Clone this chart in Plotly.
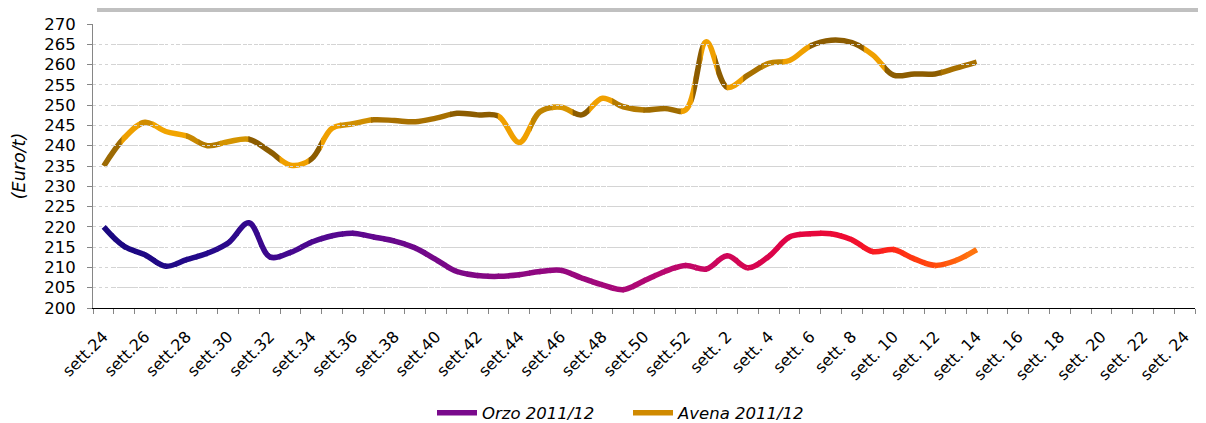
import plotly.graph_objects as go

# ---------------- data ----------------
weeks = ["sett.24", "sett.25", "sett.26", "sett.27", "sett.28", "sett.29", "sett.30", "sett.31",
         "sett.32", "sett.33", "sett.34", "sett.35", "sett.36", "sett.37", "sett.38", "sett.39",
         "sett.40", "sett.41", "sett.42", "sett.43", "sett.44", "sett.45", "sett.46", "sett.47",
         "sett.48", "sett.49", "sett.50", "sett.51", "sett.52",
         "sett. 1", "sett. 2", "sett. 3", "sett. 4", "sett. 5", "sett. 6", "sett. 7", "sett. 8",
         "sett. 9", "sett. 10", "sett. 11", "sett. 12", "sett. 13", "sett. 14", "sett. 15",
         "sett. 16", "sett. 17", "sett. 18", "sett. 19", "sett. 20", "sett. 21", "sett. 22",
         "sett. 23", "sett. 24"]

orzo = [220.0, 215.2, 213.1, 210.3, 211.9, 213.5, 216.0, 221.0, 212.6, 213.7, 216.2, 217.8,
        218.4, 217.5, 216.5, 214.8, 211.9, 209.0, 208.0, 207.8, 208.2, 209.0, 209.3, 207.4,
        205.7, 204.5, 206.7, 209.0, 210.5, 209.6, 212.9, 209.9, 212.7, 217.5, 218.3, 218.3,
        216.8, 213.9, 214.4, 212.1, 210.5, 211.7, 214.4]

avena = [235.0, 241.9, 245.8, 243.5, 242.4, 240.0, 241.0, 241.6, 238.6, 235.2, 236.7, 244.3,
         245.4, 246.4, 246.2, 245.9, 246.8, 248.0, 247.6, 247.3, 240.8, 248.4, 249.5, 247.6,
         251.7, 249.6, 248.8, 249.2, 248.8, 265.6, 254.4, 257.4, 260.3, 261.0, 264.6, 266.0,
         265.4, 262.4, 257.4, 257.7, 257.7, 259.1, 260.6]

series_names = ["Orzo 2011/12", "Avena 2011/12"]
y_ticks = [200, 205, 210, 215, 220, 225, 230, 235, 240, 245, 250, 255, 260, 265, 270]

# ---------------- styling ----------------
FONT = "DejaVu Sans"
N = len(weeks)
LW = 5.5
OFF = 8                      # page body margin of the html page
W, H = 1206 - OFF, 423 - OFF
L_M, R_M, T_M, B_M = 93 - OFF, 11, 24 - OFF, 115
PW = W - L_M - R_M
PH = H - T_M - B_M

orzo_stops = [(0, "#1a0880"), (5, "#24098a"), (9, "#45088f"), (13, "#62088f"), (18, "#820884"),
              (23, "#9a087e"), (27, "#b80870"), (30, "#d00658"), (33, "#e00444"), (36, "#f00c30"),
              (38, "#ff2818"), (40, "#ff4a0c"), (42, "#ff7a10")]

avena_bands = [(-0.5, 0.9, "#9c6a04"), (0.9, 1.75, "#eea000"), (1.75, 2.4, "#d08c00"),
               (2.4, 4.0, "#f2a400"), (4.0, 4.6, "#c88800"), (4.6, 5.6, "#b47a00"),
               (5.6, 7.0, "#d49400"), (7.0, 8.5, "#8c5c00"), (8.5, 9.9, "#f0a000"),
               (9.9, 10.5, "#8c5c00"), (10.5, 11.4, "#f0a000"), (11.4, 12.9, "#d08e00"),
               (12.9, 16.7, "#a87000"), (16.7, 19.0, "#8c5c00"), (19.0, 20.6, "#f0a000"),
               (20.6, 21.6, "#c08400"), (21.6, 22.6, "#d89400"), (22.6, 23.4, "#8c5c00"),
               (23.4, 24.5, "#f0a000"), (24.5, 26.0, "#b47a00"), (26.0, 27.8, "#a06c00"),
               (27.8, 28.4, "#f0a000"), (28.4, 28.8, "#8c5c00"), (28.8, 29.5, "#f0a000"),
               (29.5, 30.0, "#8c5c00"), (30.0, 30.8, "#f0a000"), (30.8, 31.7, "#a87000"),
               (31.7, 32.7, "#c08400"), (32.7, 34.0, "#f0a000"), (34.0, 36.6, "#8c5c00"),
               (36.6, 37.6, "#f0a000"), (37.6, 40.3, "#8c5c00"), (40.3, 42.5, "#a87000")]


def hex2rgb(h):
    h = h.lstrip("#")
    return [int(h[i:i + 2], 16) for i in (0, 2, 4)]


def interp_color(stops, t):
    for (a, ca), (b, cb) in zip(stops[:-1], stops[1:]):
        if a <= t <= b:
            f = (t - a) / (b - a)
            A, B = hex2rgb(ca), hex2rgb(cb)
            return "rgb(%d,%d,%d)" % tuple(round(A[k] + (B[k] - A[k]) * f) for k in range(3))
    return stops[-1][1] if t > stops[-1][0] else stops[0][1]


fig = go.Figure()
layout_axes = {}
axis_counter = [1]


def add_band(vals, a, b, color):
    axis_counter[0] += 1
    k = axis_counter[0]
    eps = 0.03
    lo, hi = a - eps, b + eps
    layout_axes[f"xaxis{k}"] = dict(domain=[max(0, (lo + 0.5) / N), min(1, (hi + 0.5) / N)],
                                     range=[lo, hi], visible=False, anchor="y", fixedrange=True,
                                     showgrid=False, zeroline=False)
    i0 = max(0, int(a) - 3)
    i1 = min(len(vals), int(b) + 4)
    xs = list(range(i0, i1))
    fig.add_trace(go.Scatter(x=xs, y=vals[i0:i1], xaxis=f"x{k}", yaxis="y", mode="lines",
                             line=dict(color=color, width=LW, shape="spline", smoothing=1,
                                       simplify=False),
                             showlegend=False, hoverinfo="skip"))


# Avena banded colours
for a, b, c in avena_bands:
    add_band(avena, a, b, c)

# Orzo gradient bands (half-week pieces)
last = len(orzo) - 1
bounds = [-0.5] + [j / 2 for j in range(1, 2 * last + 1)] + [last + 0.5]
for a, b in zip(bounds[:-1], bounds[1:]):
    add_band(orzo, a, b, interp_color(orzo_stops, min(max((a + b) / 2, 0), last)))

# legend entries on main axes
fig.add_trace(go.Scatter(x=[None], y=[None], mode="lines", name=series_names[0],
                         line=dict(color="#7a0a8c", width=LW), xaxis="x", yaxis="y"))
fig.add_trace(go.Scatter(x=[None], y=[None], mode="lines", name=series_names[1],
                         line=dict(color="#d08a00", width=LW), xaxis="x", yaxis="y"))

fig.update_layout(
    width=W, height=H,
    margin=dict(l=L_M, r=R_M, t=T_M, b=B_M, autoexpand=False),
    paper_bgcolor="white", plot_bgcolor="rgba(0,0,0,0)",
    font=dict(family=FONT, color="#000000", size=16),
    showlegend=True,
    legend=dict(orientation="h", x=(432 - 93) / PW, xanchor="left",
                y=(PH - (413 - 24)) / PH, yanchor="middle",
                font=dict(family=FONT, size=16.5, style="italic", color="#000"),
                itemwidth=40, entrywidth=141, entrywidthmode="pixels",
                bgcolor="rgba(0,0,0,0)"),
    xaxis=dict(domain=[0, 1], range=[-0.5, N - 0.5], tickmode="array",
               tickvals=list(range(0, N, 2)), ticktext=weeks[::2], tickangle=-45,
               ticks="", showgrid=False, zeroline=False, showline=True, automargin=False,
               linecolor="#000000", linewidth=1, fixedrange=True, ticklabelstandoff=12,
               tickfont=dict(family=FONT, size=16, color="#000"),
               minor=dict(tickmode="array", tickvals=[i - 0.5 for i in range(N + 1)],
                          ticks="outside", ticklen=5, tickcolor="#868686", showgrid=False)),
    yaxis=dict(range=[200, 270], tickmode="array", tickvals=y_ticks, ticks="outside",
               ticklen=5, tickcolor="#868686", showline=True, linecolor="#868686",
               linewidth=1, showgrid=True, gridcolor="#d4d4d4", griddash="dot",
               gridwidth=1, zeroline=False, fixedrange=True, anchor="x", automargin=False,
               ticklabelstandoff=8,
               tickfont=dict(family=FONT, size=16.5, color="#000"),
               title=dict(text="(Euro/t)", standoff=14,
                          font=dict(family=FONT, size=17.5, style="italic", color="#000"))),
    shapes=[dict(type="rect", xref="paper", yref="paper", x0=4 / PW, x1=(W - L_M) / PW,
                 y0=(PH + T_M - 4) / PH, y1=(PH + T_M) / PH, fillcolor="#c0c0c0",
                 line=dict(width=0), layer="below")],
)
fig.update_layout(**layout_axes)

fig.write_html("out.html")
